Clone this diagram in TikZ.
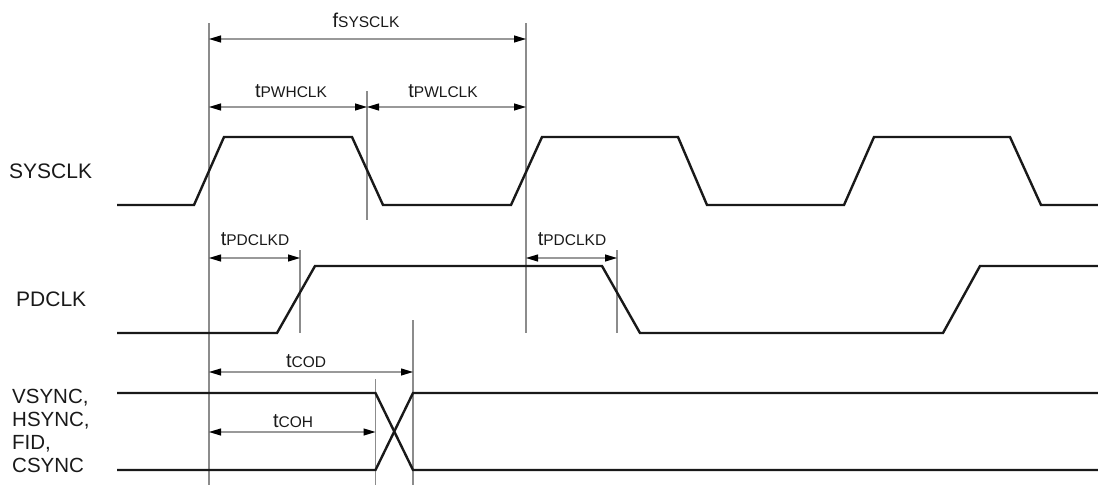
\documentclass[tikz,border=0pt]{standalone}
\usepackage{fontspec}
\setmainfont{Liberation Sans}
\usetikzlibrary{arrows.meta}
\newcommand\tlab[2]{{\fontsize{20}{24}\selectfont #1}{\fontsize{15.5}{18}\selectfont #2}}
\tikzset{
  sig/.style={line width=2.4pt, black!90, line join=miter},
  refl/.style={line width=1.1pt, black!45},
  dim/.style={line width=1.1pt, black!40,
    {Triangle[length=12pt,width=7pt,color=black]}-{Triangle[length=12pt,width=7pt,color=black]}},
  lbl/.style={anchor=base, inner sep=0pt, text=black!90},
  sname/.style={anchor=base west, inner sep=0pt, text=black!90, font=\fontsize{21}{23}\selectfont}
}
\begin{document}
\begin{tikzpicture}[x=1pt,y=-1pt]
\useasboundingbox (0,0) rectangle (1098,485);

% reference (vertical) lines
\coordinate (v0t) at (209,23);   \coordinate (v0b) at (209,485);
\coordinate (v1t) at (367,91);   \coordinate (v1b) at (367,220);
\coordinate (v2t) at (526,23);   \coordinate (v2b) at (526,333);
\coordinate (v3t) at (300,250);  \coordinate (v3b) at (300,333);
\coordinate (v4t) at (617,250);  \coordinate (v4b) at (617,333);
\coordinate (v5t) at (413,320);  \coordinate (v5b) at (413,485);
\coordinate (v6t) at (375.5,379);\coordinate (v6b) at (375.5,485);
\draw[refl] (v0t) -- (v0b);
\draw[refl] (v1t) -- (v1b);
\draw[refl] (v2t) -- (v2b);
\draw[refl] (v3t) -- (v3b);
\draw[refl] (v4t) -- (v4b);
\draw[refl] (v5t) -- (v5b);
\draw[refl] (v6t) -- (v6b);

% dimension arrows
\coordinate (fa) at (209,39);  \coordinate (fb) at (526,39);
\coordinate (ha) at (209,107); \coordinate (hb) at (367,107);
\coordinate (la) at (367,107); \coordinate (lb) at (526,107);
\coordinate (pa) at (209,258); \coordinate (pb) at (300,258);
\coordinate (qa) at (526,258); \coordinate (qb) at (617,258);
\coordinate (da) at (209,372); \coordinate (db) at (413,372);
\coordinate (oa) at (209,432); \coordinate (ob) at (375.5,432);
\draw[dim] (fa) -- (fb);
\draw[dim] (ha) -- (hb);
\draw[dim] (la) -- (lb);
\draw[dim] (pa) -- (pb);
\draw[dim] (qa) -- (qb);
\draw[dim] (da) -- (db);
\draw[dim] (oa) -- (ob);

% dimension labels
\node[lbl] (lf) at (366,27)  {\tlab{f}{SYSCLK}};
\node[lbl] (lh) at (291,97)  {\tlab{t}{PWHCLK}};
\node[lbl] (ll) at (443,97)  {\tlab{t}{PWLCLK}};
\node[lbl] (lp) at (255,245) {\tlab{t}{PDCLKD}};
\node[lbl] (lq) at (572,245) {\tlab{t}{PDCLKD}};
\node[lbl] (ld) at (306,367) {\tlab{t}{COD}};
\node[lbl] (lo) at (293,427) {\tlab{t}{COH}};

% signal names
\node[sname] (nsys) at (9,178) {SYSCLK};
\node[sname] (npd) at (16,306) {PDCLK};
\node[sname, align=left, anchor=north west, font=\fontsize{20.5}{23}\selectfont] (nsync) at (12,389)
  {VSYNC,\\HSYNC,\\FID,\\CSYNC};

% SYSCLK
\draw[sig] (117,205) -- (194,205) -- (224,137) -- (352,137) -- (383,205)
  -- (511,205) -- (542,137) -- (678,137) -- (707,205) -- (844,205)
  -- (874,137) -- (1010,137) -- (1041,205) -- (1098,205);
% PDCLK
\draw[sig] (117,333) -- (277,333) -- (315,266) -- (602,266) -- (640,333)
  -- (943,333) -- (980,266) -- (1098,266);
% VSYNC etc.
\draw[sig] (117,393) -- (375.5,393) -- (413,470) -- (1098,470);
\draw[sig] (117,470) -- (375.5,470) -- (413,393) -- (1098,393);
\end{tikzpicture}
\end{document}
